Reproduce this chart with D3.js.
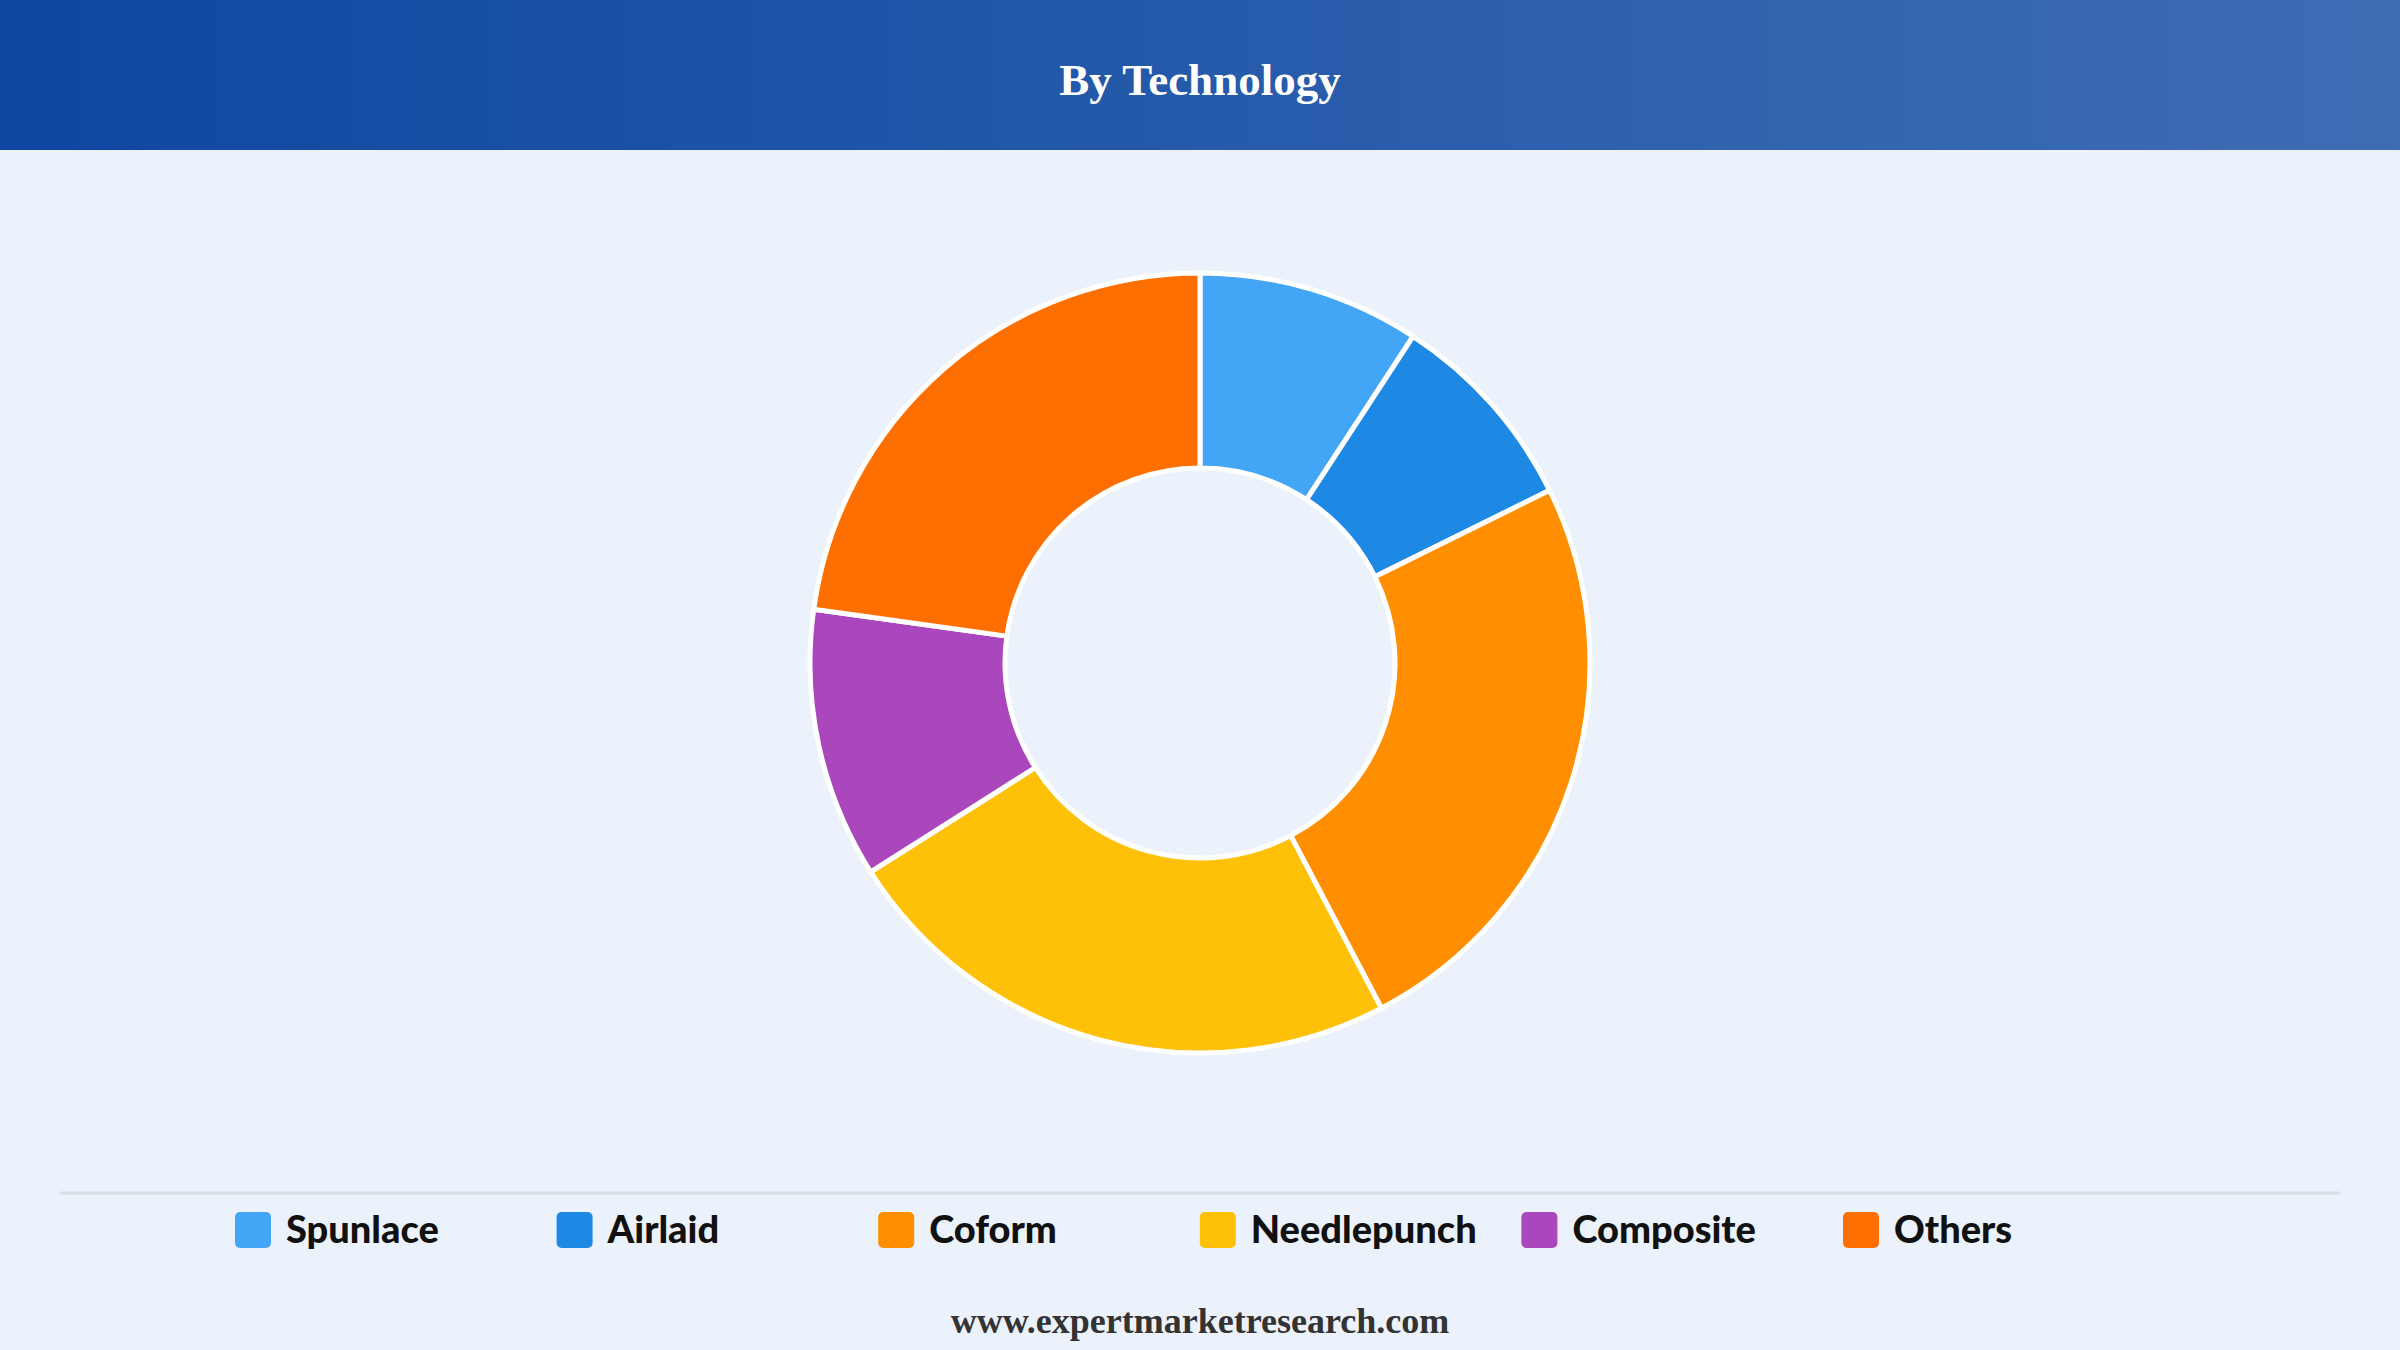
<!DOCTYPE html>
<html>
<head>
<meta charset="utf-8">
<script src="https://cdn.jsdelivr.net/npm/d3@7"></script>
<style>
  html, body { margin: 0; padding: 0; background: #EBF2FB; }
  svg { display: block; }
</style>
</head>
<body>
<svg id="chart"></svg>
<script>
var categories = ['Spunlace', 'Airlaid', 'Coform', 'Needlepunch', 'Composite', 'Others'];
var shares = [9.2, 8.5, 24.6, 23.7, 11.2, 22.8];
var colors = ['#42A5F5', '#1E88E5', '#FF8F00', '#FFC107', '#AB47BC', '#FF6F00'];

var width = 2400, height = 1350;
var svg = d3.select('#chart').attr('width', width).attr('height', height);

// background
svg.append('rect').attr('width', width).attr('height', height).attr('fill', '#EBF2FB');

// header band
var grad = svg.append('defs').append('linearGradient').attr('id', 'hdr')
  .attr('x1', '0%').attr('x2', '100%').attr('y1', '0%').attr('y2', '0%');
grad.append('stop').attr('offset', '0%').attr('stop-color', '#0D47A1');
grad.append('stop').attr('offset', '100%').attr('stop-color', '#3E6DB4');
svg.append('rect').attr('width', width).attr('height', 150).attr('fill', 'url(#hdr)');
svg.append('text').attr('x', width / 2).attr('y', 95)
  .attr('text-anchor', 'middle')
  .attr('font-family', '"Liberation Serif", "Times New Roman", serif')
  .attr('font-weight', 'bold').attr('font-size', 45).attr('fill', '#fff')
  .text('By Technology');

// donut
var data = categories.map(function(c, i) {
  return {name: c, value: shares[i]};
});
var pie = d3.pie().sort(null).value(function(d) { return d.value; });
var arc = d3.arc().outerRadius(390).innerRadius(195);
var color = d3.scaleOrdinal().domain(categories).range(colors);

var g = svg.append('g').attr('transform', 'translate(1200, 663)');
g.selectAll('.arc').data(pie(data)).enter().append('path')
  .attr('class', 'arc')
  .attr('d', arc)
  .attr('fill', function(d) { return color(d.data.name); })
  .attr('stroke', '#fff')
  .attr('stroke-width', 5)
  .attr('stroke-linejoin', 'round');

// legend separator
svg.append('line').attr('x1', 60).attr('x2', 2340).attr('y1', 1193).attr('y2', 1193)
  .attr('stroke', '#D9DDE3').attr('stroke-width', 3);

// legend
var legendX = d3.scalePoint().domain(categories).range([235, 1843]);
var item = svg.selectAll('.legend').data(categories).enter().append('g')
  .attr('class', 'legend')
  .attr('transform', function(d) { return 'translate(' + legendX(d) + ', 1212)'; });
item.append('rect').attr('width', 36).attr('height', 36).attr('rx', 5)
  .attr('fill', function(d) { return color(d); });
item.append('text').attr('x', 51).attr('y', 31)
  .attr('font-family', 'Lato, "Open Sans", sans-serif')
  .attr('font-weight', 900).attr('font-size', 38).attr('fill', '#111')
  .text(function(d) { return d; });

// footer
svg.append('text').attr('x', width / 2).attr('y', 1333)
  .attr('text-anchor', 'middle')
  .attr('font-family', '"Liberation Serif", "Times New Roman", serif')
  .attr('font-weight', 'bold').attr('font-size', 36).attr('fill', '#333')
  .text('www.expertmarketresearch.com');
</script>
</body>
</html>
